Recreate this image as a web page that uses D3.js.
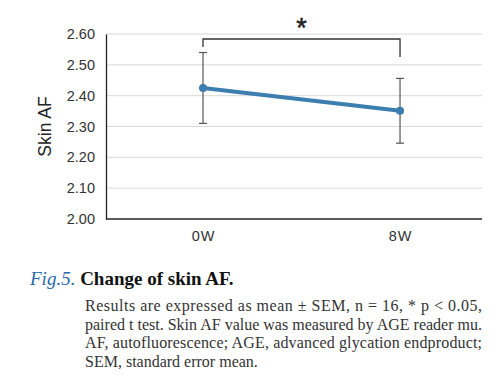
<!DOCTYPE html>
<html>
<head>
<meta charset="utf-8">
<script src="https://cdn.jsdelivr.net/npm/d3@7"></script>
<style>
  body { margin: 0; background: #fff; }
  svg { display: block; }
</style>
</head>
<body>
<svg id="chart" width="500" height="378"></svg>
<script>
// Data
const weeks = ["0W", "8W"];
const means = [2.425, 2.351];
const sems = [0.115, 0.105];
const yTicks = [2.00, 2.10, 2.20, 2.30, 2.40, 2.50, 2.60];
const captionLines = [
    "Results are expressed as mean \u00b1 SEM, n = 16, * p < 0.05,",
    "paired t test. Skin AF value was measured by AGE reader mu.",
    "AF, autofluorescence; AGE, advanced glycation endproduct;",
    "SEM, standard error mean."
];

const data = weeks.map((w, i) => ({ week: w, mean: means[i], sem: sems[i] }));

// Plot area
const margin = { top: 34, right: 18, bottom: 159, left: 106 };
const width = 500 - margin.left - margin.right;
const height = 378 - margin.top - margin.bottom;

const svg = d3.select("#chart");
const g = svg.append("g")
    .attr("transform", "translate(" + margin.left + "," + margin.top + ")");

// points are not centred in the plot: 0W sits at ~26%, 8W at ~78%
const xScale = d3.scalePoint()
    .domain(weeks)
    .range([width * 0.258, width * 0.782]);

const yScale = d3.scaleLinear()
    .domain([2.0, 2.6])
    .range([height, 0]);

// Gridlines
g.selectAll(".grid")
    .data(yTicks.slice(1))
    .enter().append("line")
    .attr("x1", 0)
    .attr("x2", width)
    .attr("y1", d => yScale(d))
    .attr("y2", d => yScale(d))
    .attr("stroke", "#d9d9d9")
    .attr("stroke-width", 1);

// Y axis
const yAxis = g.append("g")
    .call(d3.axisLeft(yScale).tickValues(yTicks).tickFormat(d3.format(".2f")).tickSize(0).tickPadding(11));
yAxis.select(".domain").attr("stroke", "#222").attr("stroke-width", 1.3);
yAxis.selectAll("text")
    .attr("font-family", "Liberation Sans, Arial, sans-serif")
    .attr("font-size", 14.5)
    .attr("fill", "#333");

// X axis
const xAxis = g.append("g")
    .attr("transform", "translate(0," + height + ")")
    .call(d3.axisBottom(xScale).tickSize(0).tickPadding(12));
xAxis.select(".domain").attr("stroke", "#222").attr("stroke-width", 1.3).attr("d", "M0,0H" + width);
xAxis.selectAll("text")
    .attr("font-family", "Liberation Sans, Arial, sans-serif")
    .attr("font-size", 14.5)
    .attr("letter-spacing", 1)
    .attr("fill", "#333");

// Y label
g.append("text")
    .attr("transform", "rotate(-90)")
    .attr("x", -yScale(2.3))
    .attr("y", -55)
    .attr("text-anchor", "middle")
    .attr("font-family", "Liberation Sans, Arial, sans-serif")
    .attr("font-size", 17.5)
    .attr("fill", "#222")
    .text("Skin AF");

// Error bars
const errG = g.selectAll(".err")
    .data(data)
    .enter().append("g")
    .attr("stroke", "#555")
    .attr("stroke-width", 1.2);
errG.append("line")
    .attr("x1", d => xScale(d.week)).attr("x2", d => xScale(d.week))
    .attr("y1", d => yScale(d.mean + d.sem)).attr("y2", d => yScale(d.mean - d.sem));
errG.append("line")
    .attr("x1", d => xScale(d.week) - 4).attr("x2", d => xScale(d.week) + 4)
    .attr("y1", d => yScale(d.mean + d.sem)).attr("y2", d => yScale(d.mean + d.sem));
errG.append("line")
    .attr("x1", d => xScale(d.week) - 4).attr("x2", d => xScale(d.week) + 4)
    .attr("y1", d => yScale(d.mean - d.sem)).attr("y2", d => yScale(d.mean - d.sem));

// Mean line
const line = d3.line()
    .x(d => xScale(d.week))
    .y(d => yScale(d.mean));

g.append("path")
    .datum(data)
    .attr("d", line)
    .attr("fill", "none")
    .attr("stroke", "#3b7eaf")
    .attr("stroke-width", 4);

g.selectAll(".pt")
    .data(data)
    .enter().append("circle")
    .attr("cx", d => xScale(d.week))
    .attr("cy", d => yScale(d.mean))
    .attr("r", 4)
    .attr("fill", "#3b7eaf");

// Significance bracket
const bracketY = yScale(2.6) + 5;
const x0 = xScale(weeks[0]), x1 = xScale(weeks[1]);
g.append("path")
    .attr("d", "M" + x0 + "," + (bracketY + 8) + "V" + bracketY + "H" + x1 + "V" + (bracketY + 18))
    .attr("fill", "none")
    .attr("stroke", "#333")
    .attr("stroke-width", 1.3);

g.append("text")
    .attr("x", (x0 + x1) / 2)
    .attr("y", bracketY - 2)
    .attr("text-anchor", "middle")
    .attr("font-family", "Liberation Sans, Arial, sans-serif")
    .attr("font-size", 27)
    .attr("stroke", "#222")
    .attr("stroke-width", 0.5)
    .attr("fill", "#222")
    .text("*");

// Caption
const title = svg.append("text")
    .attr("x", 30)
    .attr("y", 285)
    .attr("font-family", "Liberation Serif, Times New Roman, serif")
    .attr("font-size", 19);
title.append("tspan")
    .attr("font-style", "italic")
    .attr("fill", "#2a6aa8")
    .text("Fig.5. ");
title.append("tspan")
    .attr("font-weight", "bold")
    .attr("fill", "#111")
    .text("Change of skin AF.");

svg.selectAll(".cap")
    .data(captionLines)
    .enter().append("text")
    .attr("x", 85)
    .attr("y", (d, i) => 311 + i * 18.5)
    .attr("font-family", "Liberation Serif, Times New Roman, serif")
    .attr("font-size", 16)
    .attr("fill", "#333")
    .each(function(d, i) {
        if (i < captionLines.length - 1) {
            d3.select(this).attr("textLength", 397).attr("lengthAdjust", "spacing");
        }
    })
    .text(d => d);
</script>
</body>
</html>
